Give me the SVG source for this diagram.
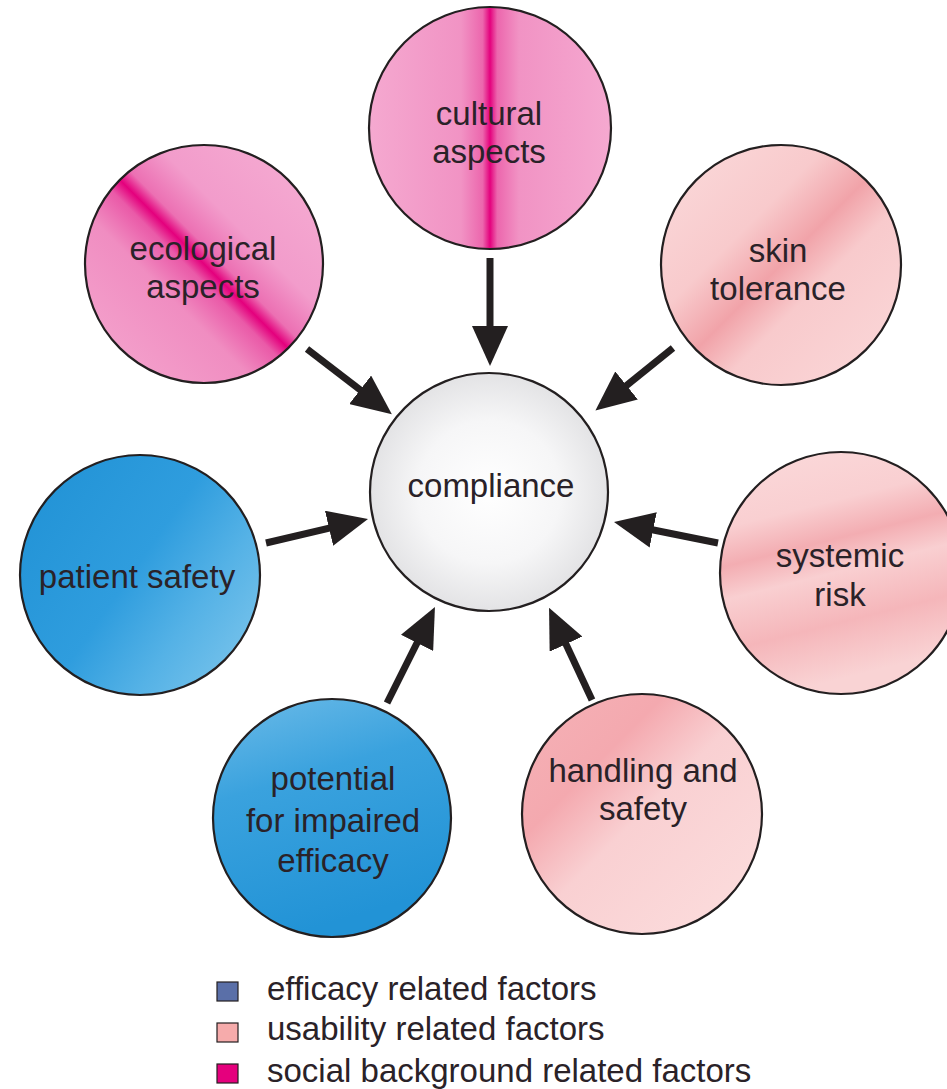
<svg xmlns="http://www.w3.org/2000/svg" width="947" height="1089" viewBox="0 0 947 1089">
<style>
.c{stroke:#231f20;stroke-width:2.2}
.t{font-family:"Liberation Sans",Arial,sans-serif;font-size:33px;fill:#2a2228;text-anchor:middle}
.lt{font-family:"Liberation Sans",Arial,sans-serif;font-size:33px;fill:#2a2228}
.a{stroke:#231f20;stroke-width:7;fill:none;marker-end:url(#ah)}
.sq{stroke:#231f20;stroke-width:1.2}
</style>
<defs>
<marker id="ah" viewBox="0 0 40 36" refX="20" refY="18" markerWidth="40" markerHeight="36" markerUnits="userSpaceOnUse" orient="auto">
<path d="M0,0 L40,18 L0,36 z" fill="#231f20"/>
</marker>
<linearGradient id="gCult" x1="0" y1="0" x2="1" y2="0">
<stop offset="0" stop-color="#f5a9d0"/>
<stop offset="0.38" stop-color="#f193c4"/>
<stop offset="0.47" stop-color="#ec66ad"/>
<stop offset="0.5" stop-color="#e4007d"/>
<stop offset="0.53" stop-color="#ec66ad"/>
<stop offset="0.62" stop-color="#f193c4"/>
<stop offset="1" stop-color="#f5a9d0"/>
</linearGradient>
<linearGradient id="gEco" x1="0" y1="1" x2="1" y2="0">
<stop offset="0" stop-color="#f5a9d0"/>
<stop offset="0.36" stop-color="#f08dc1"/>
<stop offset="0.46" stop-color="#ea5aa8"/>
<stop offset="0.5" stop-color="#e4007d"/>
<stop offset="0.54" stop-color="#ec70b3"/>
<stop offset="0.65" stop-color="#f29ccb"/>
<stop offset="1" stop-color="#f6b0d4"/>
</linearGradient>
<linearGradient id="gSkin" x1="0" y1="0" x2="1" y2="1">
<stop offset="0" stop-color="#fbdbdc"/>
<stop offset="0.35" stop-color="#f8cacc"/>
<stop offset="0.5" stop-color="#f1a3a9"/>
<stop offset="0.62" stop-color="#f8cacc"/>
<stop offset="1" stop-color="#fbd9da"/>
</linearGradient>
<linearGradient id="gSys" x1="0" y1="0" x2="0.25" y2="1">
<stop offset="0" stop-color="#fbdadb"/>
<stop offset="0.3" stop-color="#f9cfd1"/>
<stop offset="0.45" stop-color="#f3adb2"/>
<stop offset="0.58" stop-color="#f9cfd1"/>
<stop offset="0.78" stop-color="#f5b6ba"/>
<stop offset="1" stop-color="#f9d3d4"/>
</linearGradient>
<linearGradient id="gHand" x1="0" y1="0" x2="1" y2="1">
<stop offset="0" stop-color="#f5b2b7"/>
<stop offset="0.3" stop-color="#f4a9af"/>
<stop offset="0.5" stop-color="#f9d0d2"/>
<stop offset="1" stop-color="#fcdede"/>
</linearGradient>
<linearGradient id="gPat" x1="0" y1="0.2" x2="1" y2="0.9">
<stop offset="0" stop-color="#2293d6"/>
<stop offset="0.45" stop-color="#2f9dde"/>
<stop offset="0.7" stop-color="#55b2e6"/>
<stop offset="1" stop-color="#7ec6ec"/>
</linearGradient>
<linearGradient id="gPot" x1="0" y1="0" x2="0.3" y2="1">
<stop offset="0" stop-color="#6cbbe8"/>
<stop offset="0.4" stop-color="#3aa2de"/>
<stop offset="1" stop-color="#2293d6"/>
</linearGradient>
<radialGradient id="gComp" cx="0.5" cy="0.5" r="0.5">
<stop offset="0" stop-color="#ffffff"/>
<stop offset="0.6" stop-color="#f6f6f7"/>
<stop offset="1" stop-color="#e3e3e5"/>
</radialGradient>
</defs>
<rect width="947" height="1089" fill="#ffffff"/>
<g id="connectors">
<line class="a" x1="490" y1="258" x2="490" y2="346"/>
<line class="a" x1="307" y1="349" x2="376" y2="402"/>
<line class="a" x1="673" y1="348" x2="611" y2="398"/>
<line class="a" x1="266" y1="543" x2="348.5" y2="523.6"/>
<line class="a" x1="718" y1="543" x2="633.6" y2="526"/>
<line class="a" x1="387" y1="703" x2="426" y2="625"/>
<line class="a" x1="592" y1="700" x2="557.5" y2="626"/>
</g>
<g id="compliance">
<circle class="c" cx="489" cy="492" r="119" fill="url(#gComp)"/>
<text class="t" x="491" y="497">compliance</text>
</g>
<g id="cultural">
<circle class="c" cx="490" cy="128" r="121" fill="url(#gCult)"/>
<text class="t" x="489" y="125">cultural</text>
<text class="t" x="489" y="163">aspects</text>
</g>
<g id="ecological">
<circle class="c" cx="204" cy="264" r="119" fill="url(#gEco)"/>
<text class="t" x="203" y="260">ecological</text>
<text class="t" x="203" y="298">aspects</text>
</g>
<g id="skin">
<circle class="c" cx="781" cy="265" r="120" fill="url(#gSkin)"/>
<text class="t" x="778" y="262">skin</text>
<text class="t" x="778" y="300">tolerance</text>
</g>
<g id="patient">
<circle class="c" cx="140" cy="575" r="120" fill="url(#gPat)"/>
<text class="t" x="137" y="588">patient safety</text>
</g>
<g id="systemic">
<circle class="c" cx="841" cy="573" r="121" fill="url(#gSys)"/>
<text class="t" x="840" y="567">systemic</text>
<text class="t" x="840" y="606">risk</text>
</g>
<g id="potential">
<circle class="c" cx="332" cy="818" r="119" fill="url(#gPot)"/>
<text class="t" x="333" y="790">potential</text>
<text class="t" x="333" y="832">for impaired</text>
<text class="t" x="333" y="872">efficacy</text>
</g>
<g id="handling">
<circle class="c" cx="642" cy="814" r="120" fill="url(#gHand)"/>
<text class="t" x="643" y="782">handling and</text>
<text class="t" x="643" y="820">safety</text>
</g>
<g id="legend">
<rect class="sq" x="217" y="982" width="21" height="19" fill="#5a6fa8"/>
<text class="lt" x="267" y="1000">efficacy related factors</text>
<rect class="sq" x="217" y="1023" width="21" height="19" fill="#f6abab"/>
<text class="lt" x="267" y="1040">usability related factors</text>
<rect class="sq" x="217" y="1064" width="21" height="19" fill="#e5007d"/>
<text class="lt" x="267" y="1082">social background related factors</text>
</g>
</svg>
